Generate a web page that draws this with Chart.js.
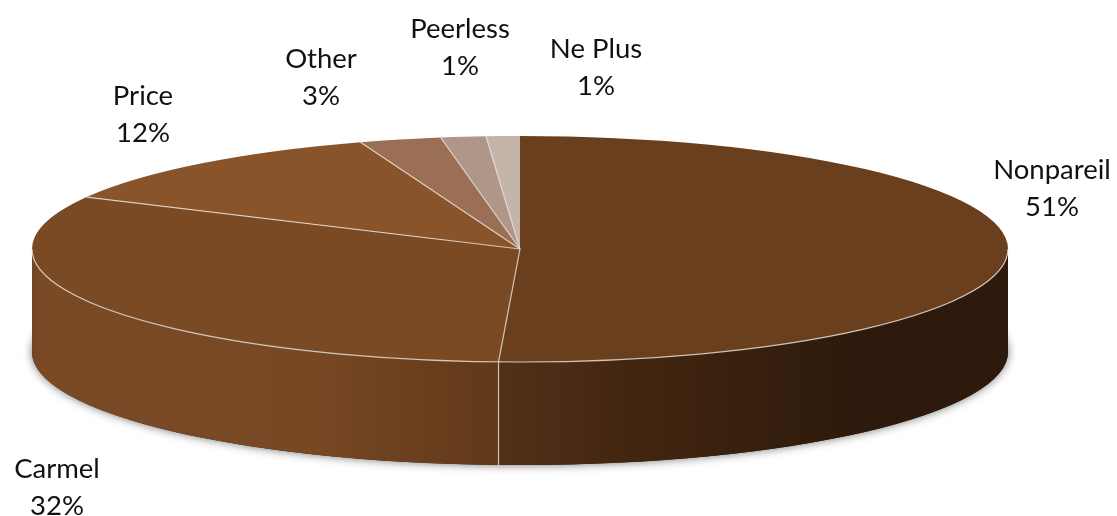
<!DOCTYPE html>
<html>
<head>
<meta charset="utf-8">
<title>Varieties</title>
<script src="https://cdn.jsdelivr.net/npm/chart.js@4"></script>
<style>
  html, body { margin: 0; padding: 0; background: #fff; }
  canvas { display: block; }
</style>
</head>
<body>
<canvas id="pie" width="1117" height="516"></canvas>
<script>
const varieties = ["Nonpareil", "Carmel", "Price", "Other", "Peerless", "Ne Plus"];
const shares = [50.7, 31.9, 12.1, 2.7, 1.49, 1.11];
const shareLabels = ["51%", "32%", "12%", "3%", "1%", "1%"];
const topColors = ["#6a3f1e", "#7a4a25", "#8a542b", "#9b6f55", "#b09688", "#c4b4aa"];

// horizontal gradients for the visible side of the slices, first stop is the far end of the arc
const wallStops = {
  0: [[0, "#52311a"], [0.25, "#432610"], [0.7, "#2d1a0c"], [1, "#2d1a0c"]],
  1: [[0, "#744524"], [0.03, "#7a4a25"], [0.6, "#774824"], [1, "#613919"]]
};

const pie3d = {
  id: "pie3d",
  beforeDatasetsDraw(chart, args, opts) {
    const ctx = chart.ctx;
    const arcs = chart.getDatasetMeta(0).data;
    const { cx, cy, rx, ry, depth } = opts;

    // soft shadow under the base
    ctx.save();
    ctx.shadowColor = "rgba(0,0,0,0.55)";
    ctx.shadowBlur = 10;
    ctx.fillStyle = "#2d1a0c";
    ctx.beginPath();
    ctx.ellipse(cx, cy + depth, rx, ry, 0, 0, Math.PI * 2);
    ctx.fill();
    ctx.restore();

    // side walls, only the part of each slice facing the viewer
    arcs.forEach((arc, i) => {
      const from = Math.max(arc.startAngle, 0);
      const to = Math.min(arc.endAngle, Math.PI);
      if (to <= from) return;
      const grad = ctx.createLinearGradient(cx + rx * Math.cos(from), 0, cx + rx * Math.cos(to), 0);
      wallStops[i].forEach(s => grad.addColorStop(1 - s[0], s[1]));
      ctx.fillStyle = grad;
      ctx.beginPath();
      ctx.ellipse(cx, cy, rx, ry, 0, from, to);
      ctx.ellipse(cx, cy + depth, rx, ry, 0, to, from, true);
      ctx.closePath();
      ctx.fill();
    });

    // squash the round pie into the top face
    const a = arcs[0];
    ctx.save();
    ctx.translate(cx, cy);
    ctx.scale(rx / a.outerRadius, ry / a.outerRadius);
    ctx.translate(-a.x, -a.y);
  },
  afterDatasetsDraw(chart, args, opts) {
    const ctx = chart.ctx;
    const arcs = chart.getDatasetMeta(0).data;
    const { cx, cy, rx, ry, depth } = opts;
    ctx.restore();

    // slice edges on the top face
    ctx.save();
    ctx.lineWidth = 1.2;
    ctx.strokeStyle = opts.edge;
    arcs.forEach((arc, i) => {
      if (i === 0) return;
      ctx.beginPath();
      ctx.moveTo(cx, cy);
      ctx.lineTo(cx + rx * Math.cos(arc.startAngle), cy + ry * Math.sin(arc.startAngle));
      ctx.stroke();
    });
    // front rim
    ctx.beginPath();
    ctx.ellipse(cx, cy, rx, ry, 0, 0, Math.PI);
    ctx.stroke();
    // seam between the two walls
    const seam = arcs[1].startAngle;
    const sx = cx + rx * Math.cos(seam);
    const sy = cy + ry * Math.sin(seam);
    ctx.beginPath();
    ctx.moveTo(sx, sy);
    ctx.lineTo(sx, sy + depth);
    ctx.stroke();
    ctx.restore();

    // data labels
    ctx.save();
    ctx.font = opts.font;
    ctx.fillStyle = "#111";
    ctx.textAlign = "center";
    ctx.textBaseline = "middle";
    varieties.forEach((name, i) => {
      const p = opts.labelAt[i];
      ctx.fillText(name, p[0], p[1]);
      ctx.fillText(shareLabels[i], p[0], p[1] + opts.lineGap);
    });
    ctx.restore();
  }
};

new Chart(document.getElementById("pie"), {
  type: "pie",
  data: {
    labels: varieties,
    datasets: [{
      data: shares,
      backgroundColor: topColors,
      borderWidth: 0
    }]
  },
  options: {
    responsive: false,
    animation: false,
    plugins: {
      legend: { display: false },
      tooltip: { enabled: false },
      pie3d: {
        cx: 520, cy: 249, rx: 488, ry: 113, depth: 103,
        edge: "rgba(232,222,212,0.85)",
        font: "27.5px Lato",
        lineGap: 37,
        labelAt: [[1052, 170], [57, 469], [143, 96], [321, 59], [460, 29], [596, 49]]
      }
    }
  },
  plugins: [pie3d]
});
</script>
</body>
</html>
